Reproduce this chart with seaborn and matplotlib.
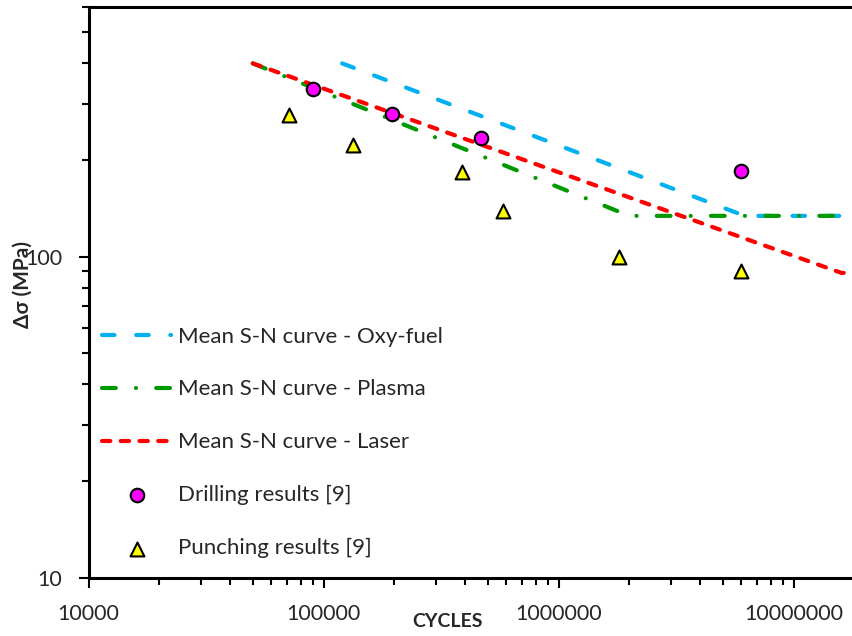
import matplotlib
matplotlib.use("Agg")
import matplotlib.pyplot as plt
import matplotlib.ticker as mticker
import seaborn as sns

# S-N curves (cycles, stress range in MPa)
oxy_x = [1.2e5, 6.2e6, 2.0e7]
oxy_y = [400, 134, 134]
plasma_x = [5.0e4, 2.0e6, 1.5e7]
plasma_y = [400, 134, 134]
laser_x = [5.0e4, 1.6e7, 2.0e7]
laser_y = [400, 89, 89]

# test results from ref [9]
drill_x = [9.0e4, 1.95e5, 4.7e5, 6.0e6]
drill_y = [334, 279, 234, 185]
punch_x = [7.1e4, 1.33e5, 3.88e5, 5.8e5, 1.8e6, 6.0e6]
punch_y = [277, 222, 184, 139, 100, 90]

x_ticks = [1e4, 1e5, 1e6, 1e7]
y_ticks = [10, 100]

sns.set_style("ticks")
plt.rcParams['font.family'] = ['Lato', 'DejaVu Sans']

fig = plt.figure(figsize=(8.52, 6.36), dpi=100)
ax = fig.add_axes([0.1039, 0.0917, 0.9105, 0.8975])
ax.set(xscale='log', yscale='log')

lw = 3.0
sns.lineplot(x=oxy_x, y=oxy_y, ax=ax, color='#00B0F0', lw=lw,
             linestyle=(0, (3.0, 5.2)), dash_capstyle='round',
             label='Mean S-N curve - Oxy-fuel')
sns.lineplot(x=plasma_x, y=plasma_y, ax=ax, color='#009A00', lw=lw,
             linestyle=(0, (3.3, 4.85, 0.01, 4.85)), dash_capstyle='round',
             label='Mean S-N curve - Plasma')
sns.lineplot(x=laser_x, y=laser_y, ax=ax, color='#FF0000', lw=lw,
             linestyle=(0, (2.0, 2.5)), dash_capstyle='round',
             label='Mean S-N curve - Laser')
sns.scatterplot(x=drill_x, y=drill_y, ax=ax, marker='o', s=95,
                color='#FF00FF', edgecolor='black', linewidth=1.5,
                zorder=3, label='Drilling results [9]')
sns.scatterplot(x=punch_x, y=punch_y, ax=ax, marker='^', s=100,
                color='#FFFF00', edgecolor='black', linewidth=1.5,
                zorder=3, label='Punching results [9]')

ax.set_xlim(1e4, 2e7)
ax.set_ylim(10, 600)
ax.xaxis.set_major_locator(mticker.FixedLocator(x_ticks))
ax.yaxis.set_major_locator(mticker.FixedLocator(y_ticks))
fmt = mticker.FuncFormatter(lambda v, p: f"{int(round(v))}")
ax.xaxis.set_major_formatter(fmt)
ax.yaxis.set_major_formatter(fmt)
ax.xaxis.set_minor_formatter(mticker.NullFormatter())
ax.yaxis.set_minor_formatter(mticker.NullFormatter())

ax.tick_params(which='major', direction='out', length=7, width=1.5,
               labelsize=15.5, pad=12, color='black')
ax.tick_params(which='minor', direction='out', length=5, width=1.5, color='black')
for s in ax.spines.values():
    s.set_linewidth(2.2)
    s.set_color('black')

ax.set_xlabel('CYCLES', fontsize=14, fontweight='bold')
ax.set_ylabel('Δσ (MPa)', fontsize=15, fontweight='bold')
ax.xaxis.set_label_coords(0.463, -0.062)
ax.yaxis.set_label_coords(-0.072, 0.513)

ax.legend(loc='upper left', bbox_to_anchor=(0.018, 0.44), frameon=False,
          fontsize=16, handlelength=3.1, handletextpad=0.3,
          labelspacing=1.48, borderpad=0, borderaxespad=0,
          scatterpoints=1)

fig.savefig('out.png', dpi=100)
